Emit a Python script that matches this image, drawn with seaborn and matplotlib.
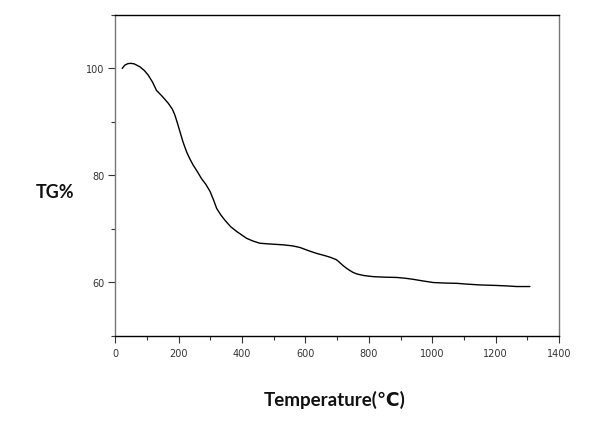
import matplotlib
matplotlib.use("Agg")
import matplotlib.pyplot as plt
import seaborn as sns
import pandas as pd
from matplotlib.ticker import MultipleLocator

temperature = [22, 30, 40, 50, 60, 78, 92, 104, 118, 130, 148, 167, 180, 188, 196, 204, 214,
               225, 236, 246, 260, 272, 286, 299, 310, 320, 333, 346, 364, 383, 400, 415,
               435, 456, 490, 530, 560, 583, 610, 635, 660, 677, 690, 698, 708, 719, 730,
               740, 750, 762, 785, 814, 850, 888, 915, 940, 970, 1003, 1040, 1077, 1110,
               1150, 1203, 1240, 1266, 1308]
tg = [100.0, 100.6, 100.9, 100.95, 100.85, 100.3, 99.6, 98.75, 97.4, 95.9, 94.8, 93.5, 92.4,
      91.3, 89.8, 88.2, 86.2, 84.4, 83.0, 81.9, 80.6, 79.4, 78.3, 77.0, 75.4, 73.8, 72.6,
      71.6, 70.4, 69.5, 68.8, 68.2, 67.7, 67.3, 67.15, 67.0, 66.8, 66.5, 65.9, 65.4, 65.0,
      64.7, 64.4, 64.2, 63.7, 63.1, 62.6, 62.2, 61.85, 61.55, 61.25, 61.05, 60.95, 60.9,
      60.75, 60.55, 60.25, 59.95, 59.85, 59.8, 59.65, 59.5, 59.4, 59.3, 59.2, 59.2]
x_ticks = [0, 200, 400, 600, 800, 1000, 1200, 1400]
y_ticks = [60, 80, 100]

df = pd.DataFrame({"Temperature": temperature, "TG": tg})

sns.set_style("white")
fig = plt.figure(figsize=(6.13, 4.39), dpi=100)
ax = fig.add_axes([0.188, 0.233, 0.724, 0.7306])
sns.lineplot(data=df, x="Temperature", y="TG", ax=ax, color="black", linewidth=1.0)

ax.set_xlim(0, 1400)
ax.set_ylim(50, 110)
ax.set_xticks(x_ticks)
ax.set_yticks(y_ticks)
ax.xaxis.set_minor_locator(MultipleLocator(100))
ax.yaxis.set_minor_locator(MultipleLocator(10))
ax.tick_params(axis="both", which="major", direction="out", length=5, width=0.8,
               labelsize=7, colors="#333333", bottom=True, left=True)
ax.tick_params(axis="both", which="minor", direction="out", length=3, width=0.8,
               bottom=True, left=True, colors="#333333")
ax.tick_params(axis="x", pad=4)
ax.tick_params(axis="y", pad=3)
for lab in ax.get_xticklabels() + ax.get_yticklabels():
    lab.set_family(["DejaVu Sans"])
    lab.set_color("#333333")

for side in ["top", "bottom"]:
    ax.spines[side].set_color("black")
    ax.spines[side].set_linewidth(1.0)
for side in ["left", "right"]:
    ax.spines[side].set_color("#777777")
    ax.spines[side].set_linewidth(1.0)

ax.set_xlabel("")
ax.set_ylabel("")
fig.text(55 / 613, 1 - 193 / 439, "TG%", ha="center", va="center", fontsize=13,
         fontweight="bold", family=["Lato", "DejaVu Sans"], color="#111111")
fig.text(335 / 613, 1 - 400 / 439, "Temperature(℃)", ha="center", va="center", fontsize=13.5,
         fontweight="bold", family=["Lato", "DejaVu Sans"], color="#111111")

fig.savefig("out.png", dpi=100, facecolor="white")
